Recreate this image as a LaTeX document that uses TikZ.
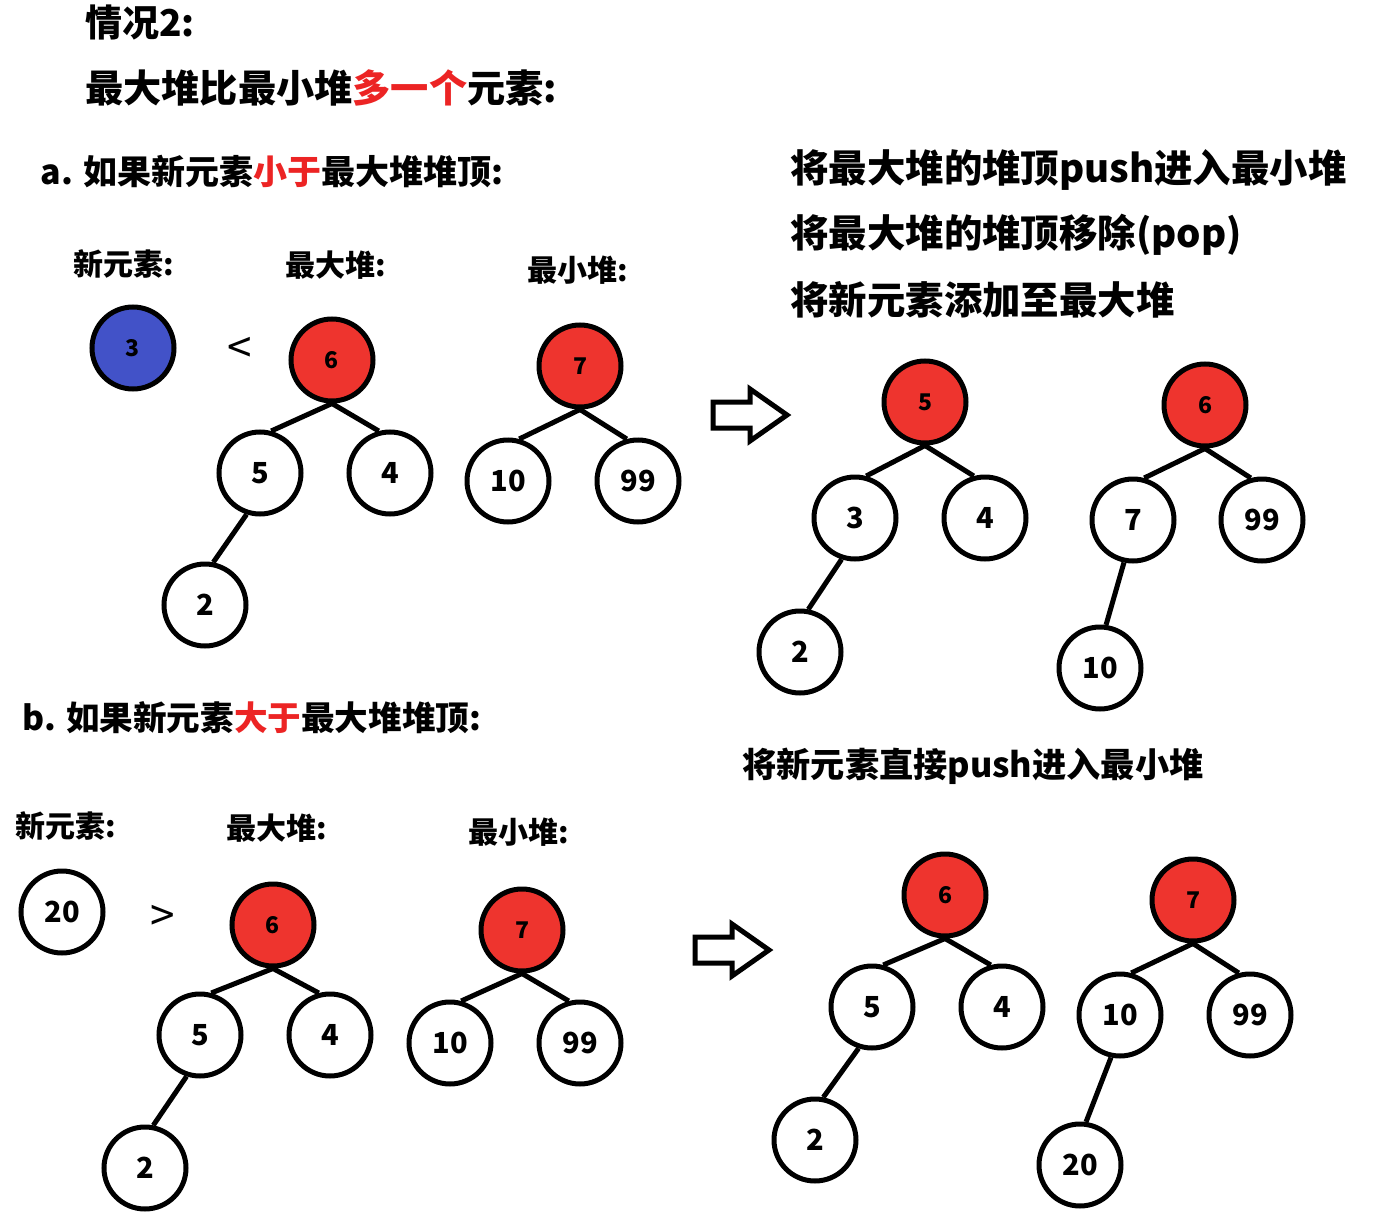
\documentclass[tikz,border=0pt]{standalone}
\usepackage{fontspec}
\newfontfamily\cjk{Noto Sans CJK SC}
\definecolor{nodered}{RGB}{238,52,46}
\definecolor{nodeblue}{RGB}{66,82,200}
\definecolor{txtred}{RGB}{236,36,36}
\tikzset{
  wn/.style={circle, draw=black, line width=2.5pt, fill=white, minimum size=41pt, inner sep=0pt,
             font=\cjk\bfseries\fontsize{14.5}{14.5}\selectfont},
  rn/.style={wn, fill=nodered, font=\cjk\bfseries\fontsize{11.5}{11.5}\selectfont},
  bn/.style={wn, fill=nodeblue, font=\cjk\bfseries\fontsize{11.5}{11.5}\selectfont},
  edge/.style={line width=2.5pt},
  ttl/.style={anchor=west, inner sep=0pt, font=\cjk\bfseries\fontsize{#1}{#1}\selectfont},
  ttl/.default=18.5,
  lbl/.style={anchor=west, inner sep=0pt, font=\cjk\bfseries\fontsize{15}{15}\selectfont},
  cmp/.style={inner sep=0pt, font=\cjk\fontsize{22}{22}\selectfont},
  fatarrow/.style={line width=2.5pt, line join=miter, fill=white}
}
\newcommand\drawfatarrow[2]{%
  \begin{scope}[shift={(#1,#2)}]
    \draw[fatarrow] (0,-13) -- (37,-13) -- (37,-26) -- (74,0) -- (37,26) -- (37,13) -- (0,13) -- cycle;
  \end{scope}}
\begin{document}
\begin{tikzpicture}[x=0.5pt,y=-0.5pt]
\useasboundingbox[fill=white] (0,0) rectangle (1378,1226);
% ---------- headings ----------
\node[ttl] (t1) at (85,22) {情况2:};
\node[ttl=19.1] (t2) at (85,88) {最大堆比最小堆\textcolor{txtred}{多一个}元素:};
\node[ttl=17] (ta) at (40,172) {a. 如果新元素\textcolor{txtred}{小于}最大堆堆顶:};
\node[ttl=19.2] (ra1) at (790,170) {将最大堆的堆顶push进入最小堆};
\node[ttl=19.2] (ra2) at (790,235) {将最大堆的堆顶移除(pop)};
\node[ttl=19.2] (ra3) at (790,300) {将新元素添加至最大堆};
\node[ttl=16.8] (tb) at (22,718) {b. 如果新元素\textcolor{txtred}{大于}最大堆堆顶:};
\node[ttl=17.1] (rb1) at (742,766) {将新元素直接push进入最小堆};
% ---------- case a, before ----------
\node[lbl] (la1) at (73,264) {新元素:};
\node[lbl] (la2) at (285,265) {最大堆:};
\node[lbl] (la3) at (527,270) {最小堆:};
\node[bn] (an3) at (133,348) {3};
\node[cmp] (alt) at (240,350) {<};
\node[rn] (am6) at (332,360) {6};
\node[wn] (am5) at (260,473) {5};
\node[wn] (am4) at (390,473) {4};
\node[wn] (am2) at (205,605) {2};
\node[rn] (an7) at (580,366) {7};
\node[wn] (an10) at (508,481) {10};
\node[wn] (an99) at (638,481) {99};
\draw[edge] (am6.south) -- (am5.75);
\draw[edge] (am6.south) -- (am4.105);
\draw[edge] (am5.252) -- (am2.79);
\draw[edge] (an7.south) -- (an10.75);
\draw[edge] (an7.south) -- (an99.105);
\drawfatarrow{713}{415}
% ---------- case a, after ----------
\node[rn] (bm5) at (925,402) {5};
\node[wn] (bm3) at (855,518) {3};
\node[wn] (bm4) at (985,518) {4};
\node[wn] (bm2) at (800,652) {2};
\node[rn] (bn6) at (1205,405) {6};
\node[wn] (bn7) at (1133,520) {7};
\node[wn] (bn99) at (1262,520) {99};
\node[wn] (bn10) at (1100,668) {10};
\draw[edge] (bm5.south) -- (bm3.75);
\draw[edge] (bm5.south) -- (bm4.105);
\draw[edge] (bm3.252) -- (bm2.79);
\draw[edge] (bn6.south) -- (bn7.75);
\draw[edge] (bn6.south) -- (bn99.105);
\draw[edge] (bn7.258) -- (bn10.82);
% ---------- case b, before ----------
\node[lbl] (lb1) at (15,826) {新元素:};
\node[lbl] (lb2) at (226,828) {最大堆:};
\node[lbl] (lb3) at (468,832) {最小堆:};
\node[wn] (cn20) at (62,912) {20};
\node[cmp] (cgt) at (163,918) {>};
\node[rn] (cm6) at (273,925) {6};
\node[wn] (cm5) at (200,1035) {5};
\node[wn] (cm4) at (330,1035) {4};
\node[wn] (cm2) at (145,1168) {2};
\node[rn] (cn7) at (522,930) {7};
\node[wn] (cn10) at (450,1043) {10};
\node[wn] (cn99) at (580,1043) {99};
\draw[edge] (cm6.south) -- (cm5.75);
\draw[edge] (cm6.south) -- (cm4.105);
\draw[edge] (cm5.252) -- (cm2.79);
\draw[edge] (cn7.south) -- (cn10.75);
\draw[edge] (cn7.south) -- (cn99.105);
\drawfatarrow{695}{950}
% ---------- case b, after ----------
\node[rn] (dm6) at (945,895) {6};
\node[wn] (dm5) at (872,1007) {5};
\node[wn] (dm4) at (1002,1007) {4};
\node[wn] (dm2) at (815,1140) {2};
\node[rn] (dn7) at (1193,900) {7};
\node[wn] (dn10) at (1120,1015) {10};
\node[wn] (dn99) at (1250,1015) {99};
\node[wn] (dn20) at (1080,1165) {20};
\draw[edge] (dm6.south) -- (dm5.75);
\draw[edge] (dm6.south) -- (dm4.105);
\draw[edge] (dm5.252) -- (dm2.79);
\draw[edge] (dn7.south) -- (dn10.75);
\draw[edge] (dn7.south) -- (dn99.105);
\draw[edge] (dn10.258) -- (dn20.82);
\end{tikzpicture}
\end{document}
